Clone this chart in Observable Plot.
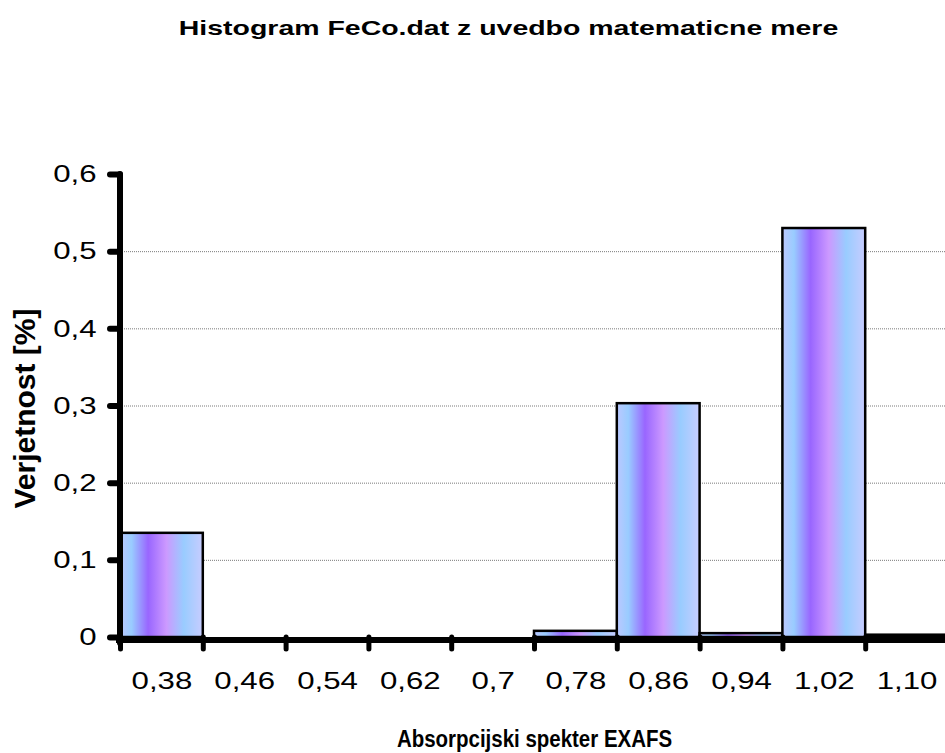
<!DOCTYPE html>
<html><head><meta charset="utf-8">
<script src="https://cdn.jsdelivr.net/npm/d3@7"></script>
<script src="https://cdn.jsdelivr.net/npm/@observablehq/plot@0.6"></script>
<style>
html,body{margin:0;padding:0;background:#fff;overflow:hidden}
#chart{width:945px;height:753px;overflow:hidden}
g[aria-label="x-axis tick"], g[aria-label="y-axis tick"]{stroke-linecap:round}
</style></head><body><div id="chart"></div>
<script>
const title = "Histogram FeCo.dat z uvedbo matematicne mere";
const xTitle = "Absorpcijski spekter EXAFS";
const yTitle = "Verjetnost [%]";
const categories = ["0,38","0,46","0,54","0,62","0,7","0,78","0,86","0,94","1,02","1,10"];
const probabilities = [0.135, 0, 0, 0, 0, 0.008, 0.303, 0.005, 0.530, 0.003];
const yTicks = [0, 0.1, 0.2, 0.3, 0.4, 0.5, 0.6];
const gridTicks = [0.1, 0.2, 0.3, 0.4, 0.5];

const data = categories.map((c, i) => ({i, category: c, value: probabilities[i]}));
const boundaries = categories.map((c, i) => i);
const centers = categories.map((c, i) => i + 0.5);
const fmt = d => d === 0 ? "0" : d.toFixed(1).replace(".", ",");

const plot = Plot.plot({
  width: 945, height: 753,
  marginLeft: 120, marginRight: -3, marginTop: 174, marginBottom: 116,
  style: {fontFamily: "'Liberation Sans', Arial, sans-serif", background: "white", overflow: "visible", color: "black"},
  x: {type: "linear", domain: [0, categories.length]},
  y: {domain: [0, 0.6]},
  marks: [
    Plot.gridY({ticks: gridTicks, stroke: "#7a7a7a", strokeOpacity: 1, strokeWidth: 1, strokeDasharray: "1,1"}),
    Plot.rectY(data.filter(d => d.value > 0), {x1: d => d.i, x2: d => d.i + 1, y1: 0, y2: "value", fill: "url(#barGrad)", stroke: "black", strokeWidth: 2.5}),
    Plot.ruleY([0], {x1: 0, x2: categories.length, stroke: "black", strokeWidth: 6, dy: 2.5, insetLeft: -4}),
    Plot.ruleX([0], {y1: 0.6, y2: 0, stroke: "black", strokeWidth: 6, dx: -0.5, insetBottom: -6, strokeLinecap: "round"}),
    Plot.axisY({ticks: yTicks, tickFormat: fmt, tickSize: 10, tickPadding: 14, strokeWidth: 6, fontSize: 24, label: null}),
    Plot.axisX({ticks: boundaries, tickFormat: () => "", tickSize: 12, strokeWidth: 5, label: null}),
    Plot.axisX({ticks: centers, tickFormat: d => categories[Math.floor(d)], tickSize: 0, tickPadding: 34, fontSize: 24, label: null}),
    Plot.text([title], {text: d => d, frameAnchor: "top", dx: -26, dy: -153, fontSize: 19.5, fontWeight: "bold"}),
    Plot.text([yTitle], {text: d => d, frameAnchor: "left", textAnchor: "middle", rotate: -90, dx: -95, dy: 2.5, fontSize: 30, fontWeight: "bold"}),
    Plot.text([xTitle], {text: d => d, frameAnchor: "bottom", dx: 0, dy: 109, fontSize: 23, fontWeight: "bold"})
  ]
});

const ns = "http://www.w3.org/2000/svg";
const defs = document.createElementNS(ns, "defs");
defs.innerHTML = `<linearGradient id="barGrad" x1="0" y1="0" x2="1" y2="0">
  <stop offset="0" stop-color="#bcc8ff"/>
  <stop offset="0.14" stop-color="#99ccff"/>
  <stop offset="0.34" stop-color="#9966ff"/>
  <stop offset="0.56" stop-color="#cc99ff"/>
  <stop offset="0.77" stop-color="#99ccff"/>
  <stop offset="1" stop-color="#c8ccff"/>
</linearGradient>`;
plot.insertBefore(defs, plot.firstChild);

function stretchNode(t, sx) {
  const tr = t.getAttribute("transform");
  if (tr) t.setAttribute("transform", tr + ` scale(${sx},1)`);
  else {
    const x = +t.getAttribute("x") || 0, y = +t.getAttribute("y") || 0;
    t.removeAttribute("x"); t.removeAttribute("y");
    t.setAttribute("transform", `translate(${x},${y}) scale(${sx},1)`);
  }
}
plot.querySelectorAll('g[aria-label="x-axis tick label"] text').forEach(t => stretchNode(t, 1.3));
plot.querySelectorAll('g[aria-label="y-axis tick label"] text').forEach(t => stretchNode(t, 1.3));
plot.querySelectorAll('text').forEach(t => {
  if (t.textContent === title) stretchNode(t, 1.46);
  else if (t.textContent === xTitle) stretchNode(t, 0.89);
});

document.getElementById("chart").appendChild(plot);
</script>
</body></html>
